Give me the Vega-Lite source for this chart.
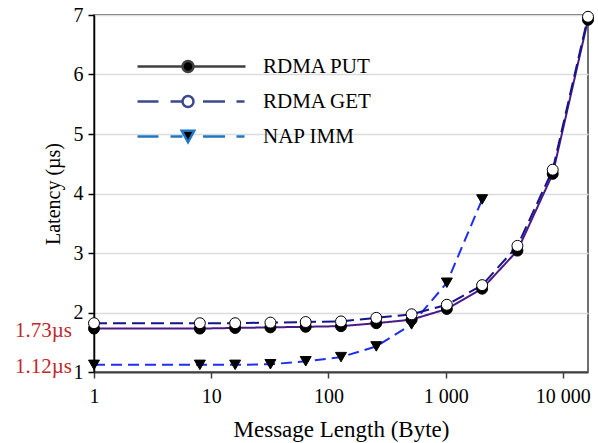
{
  "$schema": "https://vega.github.io/schema/vega-lite/v6.json",
  "width": 494,
  "height": 357,
  "autosize": "none",
  "padding": {"left": 94, "top": 15, "right": 10, "bottom": 71},
  "background": "white",
  "config": {
    "font": "Liberation Serif",
    "view": {"stroke": "#404040", "strokeWidth": 1.5},
    "axis": {"labelFont": "Liberation Serif", "titleFont": "Liberation Serif", "labelColor": "black", "titleColor": "black", "labelFontSize": 20, "titleFontSize": 21, "titleFontWeight": "normal"}
  },
  "resolve": {"scale": {"shape": "independent", "fill": "independent", "stroke": "independent"}},
  "layer": [
    {
      "data": {"name": "series", "values": [
        {"series": "NAP IMM", "size": 1, "latency": 1.12},
        {"series": "NAP IMM", "size": 8, "latency": 1.12},
        {"series": "NAP IMM", "size": 16, "latency": 1.12},
        {"series": "NAP IMM", "size": 32, "latency": 1.13},
        {"series": "NAP IMM", "size": 64, "latency": 1.18},
        {"series": "NAP IMM", "size": 128, "latency": 1.25},
        {"series": "NAP IMM", "size": 256, "latency": 1.43},
        {"series": "NAP IMM", "size": 512, "latency": 1.8},
        {"series": "NAP IMM", "size": 1024, "latency": 2.5},
        {"series": "NAP IMM", "size": 2048, "latency": 3.9},
        {"series": "RDMA PUT", "size": 1, "latency": 1.73},
        {"series": "RDMA PUT", "size": 8, "latency": 1.73},
        {"series": "RDMA PUT", "size": 16, "latency": 1.74},
        {"series": "RDMA PUT", "size": 32, "latency": 1.75},
        {"series": "RDMA PUT", "size": 64, "latency": 1.76},
        {"series": "RDMA PUT", "size": 128, "latency": 1.77},
        {"series": "RDMA PUT", "size": 256, "latency": 1.82},
        {"series": "RDMA PUT", "size": 512, "latency": 1.88},
        {"series": "RDMA PUT", "size": 1024, "latency": 2.06},
        {"series": "RDMA PUT", "size": 2048, "latency": 2.4},
        {"series": "RDMA PUT", "size": 4096, "latency": 3.04},
        {"series": "RDMA PUT", "size": 8192, "latency": 4.33},
        {"series": "RDMA PUT", "size": 16384, "latency": 6.92},
        {"series": "RDMA GET", "size": 1, "latency": 1.82},
        {"series": "RDMA GET", "size": 8, "latency": 1.82},
        {"series": "RDMA GET", "size": 16, "latency": 1.82},
        {"series": "RDMA GET", "size": 32, "latency": 1.83},
        {"series": "RDMA GET", "size": 64, "latency": 1.84},
        {"series": "RDMA GET", "size": 128, "latency": 1.85},
        {"series": "RDMA GET", "size": 256, "latency": 1.91},
        {"series": "RDMA GET", "size": 512, "latency": 1.97},
        {"series": "RDMA GET", "size": 1024, "latency": 2.13},
        {"series": "RDMA GET", "size": 2048, "latency": 2.46},
        {"series": "RDMA GET", "size": 4096, "latency": 3.12},
        {"series": "RDMA GET", "size": 8192, "latency": 4.4},
        {"series": "RDMA GET", "size": 16384, "latency": 6.97}
      ]},
      "layer": [
        {
          "mark": {"type": "line", "strokeWidth": 2},
          "encoding": {
            "x": {"field": "size", "type": "quantitative",
              "scale": {"type": "log", "domain": [1, 16384], "nice": false},
              "axis": {"values": [1, 10, 100, 1000, 10000], "grid": false, "title": "Message Length (Byte)", "titleFontSize": 23,
                "labelExpr": "replace(format(datum.value, ','), ',', ' ')",
                "domainColor": "#404040", "domainWidth": 2, "tickColor": "#404040", "tickWidth": 1.5, "tickSize": 6, "labelPadding": 8, "titlePadding": 12, "labelFlush": false, "labelOverlap": false}},
            "y": {"field": "latency", "type": "quantitative",
              "scale": {"domain": [1, 7], "nice": false, "zero": false},
              "axis": {"values": [1, 2, 3, 4, 5, 6, 7], "format": "d", "title": "Latency (µs)", "titleFontSize": 20, "grid": true, "gridColor": "#dcdcdc", "gridWidth": 1.5,
                "domainColor": "black", "domainWidth": 1.5, "tickColor": "black", "tickWidth": 1.5, "tickSize": 6, "labelPadding": 5, "titlePadding": 10}},
            "color": {"field": "series", "type": "nominal",
              "scale": {"domain": ["RDMA PUT", "RDMA GET", "NAP IMM"], "range": ["#4b1a86", "#14148c", "#1f2ff0"]},
              "legend": null},
            "strokeDash": {"field": "series", "type": "nominal",
              "scale": {"domain": ["RDMA PUT", "RDMA GET", "NAP IMM"], "range": [[1, 0], [13, 6], [11, 6]]},
              "legend": null}
          }
        },
        {
          "mark": {"type": "point", "filled": true, "size": 120, "stroke": "black", "strokeWidth": 1, "opacity": 1},
          "encoding": {
            "x": {"field": "size", "type": "quantitative"},
            "y": {"field": "latency", "type": "quantitative"},
            "shape": {"field": "series", "type": "nominal",
              "scale": {"domain": ["RDMA PUT", "RDMA GET", "NAP IMM"], "range": ["circle", "circle", "triangle-down"]},
              "legend": null},
            "fill": {"field": "series", "type": "nominal",
              "scale": {"domain": ["RDMA PUT", "RDMA GET", "NAP IMM"], "range": ["#000000", "#ffffff", "#000000"]},
              "legend": null}
          }
        }
      ]
    },
    {
      "data": {"values": [
        {"label": "1.73µs", "size": 1, "latency": 1.73},
        {"label": "1.12µs", "size": 1, "latency": 1.12}
      ]},
      "mark": {"type": "text", "align": "right", "baseline": "middle", "dx": -22, "dy": 2, "font": "Liberation Serif", "fontSize": 21, "color": "#c0282d"},
      "encoding": {
        "x": {"field": "size", "type": "quantitative"},
        "y": {"field": "latency", "type": "quantitative"},
        "text": {"field": "label"}
      }
    },
    {
      "data": {"values": [
        {"series": "RDMA PUT"},
        {"series": "RDMA GET"},
        {"series": "NAP IMM"}
      ]},
      "transform": [{"filter": "false"}],
      "mark": {"type": "point", "filled": true, "size": 100, "strokeWidth": 2.5},
      "encoding": {
        "shape": {"field": "series", "type": "nominal",
          "scale": {"domain": ["RDMA PUT", "RDMA GET", "NAP IMM"], "range": [
            "M-10.8,0H-1.8M0.4,0H10.8M0.4,0A1.1,1.1 0 1,1 -1.8,0A1.1,1.1 0 1,1 0.4,0Z",
            "M-10.8,0H-6.6M-4.2,0H-1.8M2.3,0H6.7M9,0H10.6M0.4,0A1.1,1.1 0 1,1 -1.8,0A1.1,1.1 0 1,1 0.4,0Z",
            "M-10.8,0H-6.6M-4.2,0H-1.8M2.3,0H6.7M9,0H10.6M-1.95,-1.15H0.55L-0.7,1.15Z"]},
          "legend": {
            "orient": "none", "legendX": 87, "legendY": 41, "title": null, "padding": 0,
            "symbolStrokeWidth": 2.5, "symbolOpacity": 1, "labelOffset": 61, "rowPadding": 13,
            "labelFont": "Liberation Serif", "labelFontSize": 21, "labelColor": "black"
          }},
        "fill": {"field": "series", "type": "nominal",
          "scale": {"domain": ["RDMA PUT", "RDMA GET", "NAP IMM"], "range": ["#000000", "#ffffff", "#000000"]},
          "legend": {"orient": "none", "legendX": 87, "legendY": 41, "title": null, "padding": 0,
            "symbolStrokeWidth": 2.5, "symbolOpacity": 1, "labelOffset": 61, "rowPadding": 13,
            "labelFont": "Liberation Serif", "labelFontSize": 21, "labelColor": "black"}},
        "stroke": {"field": "series", "type": "nominal",
          "scale": {"domain": ["RDMA PUT", "RDMA GET", "NAP IMM"], "range": ["#404040", "#3b4a8a", "#1f77c4"]},
          "legend": {"orient": "none", "legendX": 87, "legendY": 41, "title": null, "padding": 0,
            "symbolStrokeWidth": 2.5, "symbolOpacity": 1, "labelOffset": 61, "rowPadding": 13,
            "labelFont": "Liberation Serif", "labelFontSize": 21, "labelColor": "black"}}
      }
    }
  ]
}
